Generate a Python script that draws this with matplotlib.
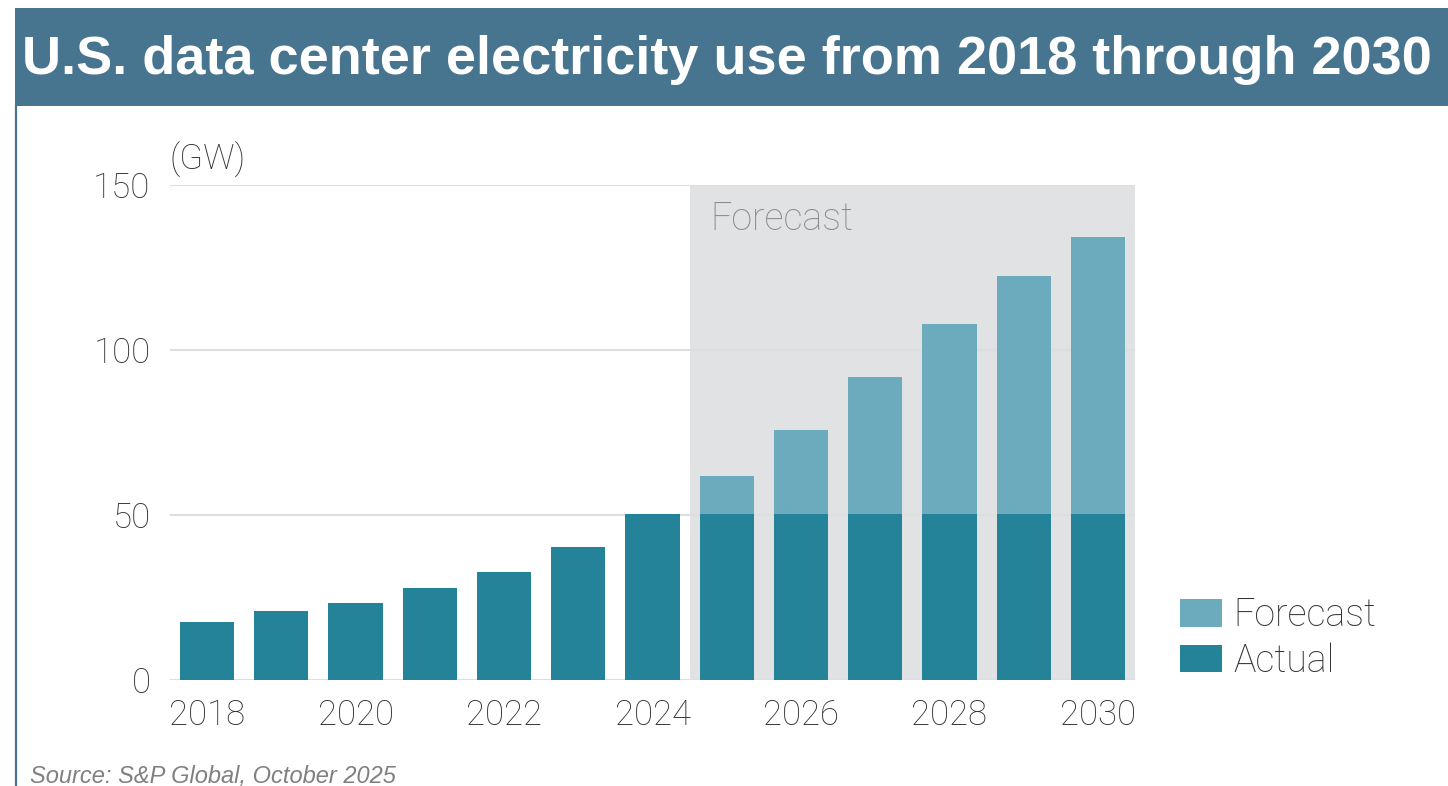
import matplotlib
matplotlib.use("Agg")
import matplotlib.pyplot as plt
from matplotlib.patches import Rectangle, Patch
import numpy as np

# data (GW)
years = [2018, 2019, 2020, 2021, 2022, 2023, 2024, 2025, 2026, 2027, 2028, 2029, 2030]
actual = [17.6, 20.9, 23.3, 27.9, 32.7, 40.3, 50.3, 50.3, 50.3, 50.3, 50.3, 50.3, 50.3]
total = [17.6, 20.9, 23.3, 27.9, 32.7, 40.3, 50.3, 61.8, 75.8, 91.8, 107.9, 122.4, 134.2]
first_forecast = 2025
yticks = [0, 50, 100, 150]
xtick_years = [2018, 2020, 2022, 2024, 2026, 2028, 2030]

c_actual = "#248299"
c_forecast = "#6babbd"
c_band = "#47748f"
c_text = "#333333"
font = "Roboto"

fig = plt.figure(figsize=(14.48, 7.86), dpi=100)

# title band + left rule
fig.patches.append(Rectangle((15 / 1448, 1 - 106 / 786), 1 - 15 / 1448, 98 / 786,
                             transform=fig.transFigure, facecolor=c_band, edgecolor="none"))
fig.add_artist(plt.Line2D([15.5 / 1448, 15.5 / 1448], [0, 1 - 106 / 786],
                          transform=fig.transFigure, color=c_band, lw=1.6))
fig.text(727 / 1448, 1 - 60 / 786, "U.S. data center electricity use from 2018 through 2030",
         ha="center", va="center", color="white", fontsize=39, fontweight="bold",
         family="Liberation Sans")

ax = fig.add_axes([170 / 1448, 1 - 680 / 786, (1135 - 170) / 1448, (680 - 185) / 786])
x = np.arange(len(years))
fc_start = years.index(first_forecast) - 0.5

# shaded forecast region
ax.axvspan(fc_start, len(years) - 0.5, color="#e1e2e4", zorder=0, lw=0)
ax.text(fc_start + 0.28, 139.5, "Forecast", ha="left", va="center", fontsize=27,
        color="#8a8a8a", family=font, fontweight="light", zorder=1)

for yv in yticks:
    ax.axhline(yv, color="#dedede", lw=1.5, zorder=1)

extra = [t - a for t, a in zip(total, actual)]
ax.bar(x, actual, width=0.73, color=c_actual, zorder=2, lw=0)
ax.bar(x, extra, bottom=actual, width=0.73, color=c_forecast, zorder=2, lw=0)

ax.set_xlim(-0.5, len(years) - 0.5)
ax.set_ylim(0, 150)
ax.set_yticks(yticks)
ax.set_yticklabels([str(v) for v in yticks])
ax.set_xticks([years.index(y) for y in xtick_years])
ax.set_xticklabels([str(y) for y in xtick_years])
ax.tick_params(length=0, labelsize=25, labelcolor=c_text)
ax.tick_params(axis="x", pad=13)
ax.tick_params(axis="y", pad=14)
for lab in ax.get_xticklabels() + ax.get_yticklabels():
    lab.set_family(font)
    lab.set_fontweight("light")
for s in ax.spines.values():
    s.set_visible(False)
ax.set_facecolor("none")

fig.text(170 / 1448, 1 - 160 / 786, "(GW)", ha="left", va="center", fontsize=25,
         color=c_text, family=font, fontweight="light")

handles = [Patch(facecolor=c_forecast, label="Forecast"),
           Patch(facecolor=c_actual, label="Actual")]
fig.legend(handles=handles, loc="center left", bbox_to_anchor=(1146 / 1448, 1 - 638 / 786),
           frameon=False, prop={"family": font, "weight": "light", "size": 27},
           handlelength=1.12, handleheight=0.75, handletextpad=0.3, labelspacing=0.22,
           labelcolor=c_text)

fig.text(30 / 1448, 1 - 777 / 786, "Source: S&P Global, October 2025", ha="left", va="center",
         fontsize=17, color="#808080", style="italic", family="Liberation Sans")

fig.savefig("out.png", dpi=100)
